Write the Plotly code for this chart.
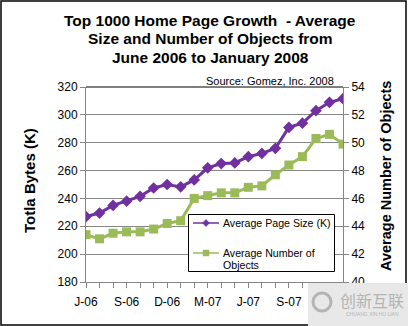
import plotly.graph_objects as go

months = ["Jun-06", "Jul-06", "Aug-06", "Sep-06", "Oct-06", "Nov-06", "Dec-06",
          "Jan-07", "Feb-07", "Mar-07", "Apr-07", "May-07", "Jun-07", "Jul-07",
          "Aug-07", "Sep-07", "Oct-07", "Nov-07", "Dec-07", "Jan-08"]
page_size = [227, 229.5, 235, 238, 241.5, 247.5, 250, 248.3, 253.3, 262,
             265, 265.5, 270, 272.3, 276, 291, 294, 303, 309, 311.6]
num_objects = [43.4, 43.1, 43.5, 43.6, 43.6, 43.8, 44.2, 44.4, 46.0, 46.2,
               46.4, 46.4, 46.8, 46.9, 47.7, 48.4, 49.0, 50.3, 50.6, 49.9]
tick_labels = ["J-06", "S-06", "D-06", "M-07", "J-07", "S-07", "D-07"]
left_ticks = [180, 200, 220, 240, 260, 280, 300, 320]
right_ticks = [40, 42, 44, 46, 48, 50, 52, 54]
title_lines = ["Top 1000 Home Page Growth  - Average",
               "Size and Number of Objects from",
               "June 2006 to January 2008"]
legend_names = [["Average Page Size (K)"], ["Average Number of", "Objects"]]

PURPLE = "#7030A0"
GREEN = "#9BBB59"
FONT = "Arial, Liberation Sans, sans-serif"

x = list(range(len(months)))
tick_pos = x[::3]

fig = go.Figure()
fig.add_trace(go.Scatter(x=x, y=page_size, mode="lines+markers", showlegend=False,
                         name=legend_names[0][0],
                         line=dict(color=PURPLE, width=3),
                         marker=dict(symbol="diamond", size=9, color=PURPLE)))
fig.add_trace(go.Scatter(x=x, y=num_objects, mode="lines+markers", yaxis="y2",
                         showlegend=False, name=" ".join(legend_names[1]),
                         line=dict(color=GREEN, width=3),
                         marker=dict(symbol="square", size=9, color=GREEN)))

W, H = 408, 326
L, R, T, B = 86, 65, 87, 44
pw, ph = W - L - R, H - T - B


def px(xp):
    return (xp - L) / pw


def py(yp):
    return (H - B - yp) / ph


fig.update_layout(
    width=W, height=H,
    margin=dict(l=L, r=R, t=T, b=B),
    paper_bgcolor="white", plot_bgcolor="white",
    font=dict(family=FONT, size=12, color="black"),
    showlegend=False,
    xaxis=dict(range=[0, len(months) - 1], tickmode="array", tickvals=tick_pos,
               ticktext=tick_labels, ticks="outside", ticklen=5, tickcolor="#868686",
               showline=True, linecolor="#868686", linewidth=1, showgrid=False,
               zeroline=False, tickfont=dict(size=12), ticklabelstandoff=4,
               minor=dict(dtick=1, tick0=0, ticks="outside", ticklen=5, tickcolor="#868686")),
    yaxis=dict(range=[180, 320], tickvals=left_ticks, ticks="outside", ticklen=5,
               tickcolor="#868686", showline=True, linecolor="#868686", linewidth=1,
               showgrid=True, gridcolor="#868686", gridwidth=1, zeroline=False,
               tickfont=dict(size=12)),
    yaxis2=dict(range=[40, 54], tickvals=right_ticks, overlaying="y", side="right",
                ticks="outside", ticklen=5, tickcolor="#868686", showline=True,
                linecolor="#868686", linewidth=1, showgrid=False, zeroline=False,
                tickfont=dict(size=12)),
)

for i, line in enumerate(title_lines):
    fig.add_annotation(text="<b>" + line + "</b>", xref="paper", yref="paper",
                       x=px(210), y=py(20 + 18.6 * i), xanchor="center",
                       yanchor="middle", showarrow=False,
                       font=dict(size=15.5, family=FONT))
fig.add_annotation(text="Source: Gomez, Inc. 2008", xref="paper", yref="paper",
                   x=px(336), y=py(81), xanchor="right", yanchor="middle",
                   showarrow=False, font=dict(size=11, family=FONT))
fig.add_annotation(text="<b>Totla Bytes (K)</b>", xref="paper", yref="paper",
                   x=px(29), y=py(181), textangle=-90, xanchor="center",
                   yanchor="middle", showarrow=False, font=dict(size=15, family=FONT))
fig.add_annotation(text="<b>Average Number of Objects</b>", xref="paper", yref="paper",
                   x=px(386), y=py(176), textangle=-90, xanchor="center",
                   yanchor="middle", showarrow=False, font=dict(size=14.5, family=FONT))

# legend box (drawn as in the reference, with thin sample lines)
fig.add_shape(type="rect", xref="paper", yref="paper", x0=px(188.5), x1=px(334.5),
              y0=py(214.5), y1=py(271.5), fillcolor="white",
              line=dict(color="black", width=1), layer="above")
for row_y, color, symbol, names in [(223, PURPLE, "diamond", legend_names[0]),
                                    (253, GREEN, "square", legend_names[1])]:
    fig.add_shape(type="line", xref="paper", yref="paper", x0=px(193), x1=px(219),
                  y0=py(row_y), y1=py(row_y), line=dict(color=color, width=1.5),
                  layer="above")
    if symbol == "diamond":
        path = "M {} {} L {} {} L {} {} L {} {} Z".format(
            px(206 - 3.5), py(row_y), px(206), py(row_y - 3.5),
            px(206 + 3.5), py(row_y), px(206), py(row_y + 3.5))
        fig.add_shape(type="path", xref="paper", yref="paper", path=path,
                      fillcolor=color, line=dict(color=color, width=0.5), layer="above")
    else:
        fig.add_shape(type="rect", xref="paper", yref="paper", x0=px(203), x1=px(209),
                      y0=py(row_y - 3), y1=py(row_y + 3), fillcolor=color,
                      line=dict(color=color, width=0.5), layer="above")
    for j, nm in enumerate(names):
        fig.add_annotation(text=nm, xref="paper", yref="paper", x=px(221),
                           y=py(row_y + 12 * j), xanchor="left", yanchor="middle",
                           showarrow=False, font=dict(size=10.6, family=FONT))

# top border of plot area and outer chart border
fig.add_shape(type="line", xref="paper", yref="paper", x0=0, x1=1, y0=1, y1=1,
              line=dict(color="black", width=1.2))
fig.add_shape(type="rect", xref="paper", yref="paper", x0=px(1), x1=px(406),
              y0=py(1), y1=py(325), line=dict(color="black", width=1.5))

# watermark overlay
fig.add_shape(type="rect", xref="paper", yref="paper", x0=px(308), x1=px(408),
              y0=py(283), y1=py(326), fillcolor="#e8e8e8", line=dict(width=0),
              layer="above")
fig.add_shape(type="circle", xref="paper", yref="paper", x0=px(313), x1=px(331),
              y0=py(293), y1=py(311), line=dict(color="#b4b4b4", width=3),
              layer="above")
fig.add_annotation(text="创新互联", xref="paper", yref="paper", x=px(372), y=py(300),
                   xanchor="center", yanchor="middle", showarrow=False,
                   font=dict(size=16, color="#b4b4b4", family="Noto Sans CJK SC"))
fig.add_annotation(text="CHUANG XIN HU LIAN", xref="paper", yref="paper", x=px(372),
                   y=py(314), xanchor="center", yanchor="middle", showarrow=False,
                   font=dict(size=5, color="#b4b4b4", family=FONT))

fig.write_html("out.html")
